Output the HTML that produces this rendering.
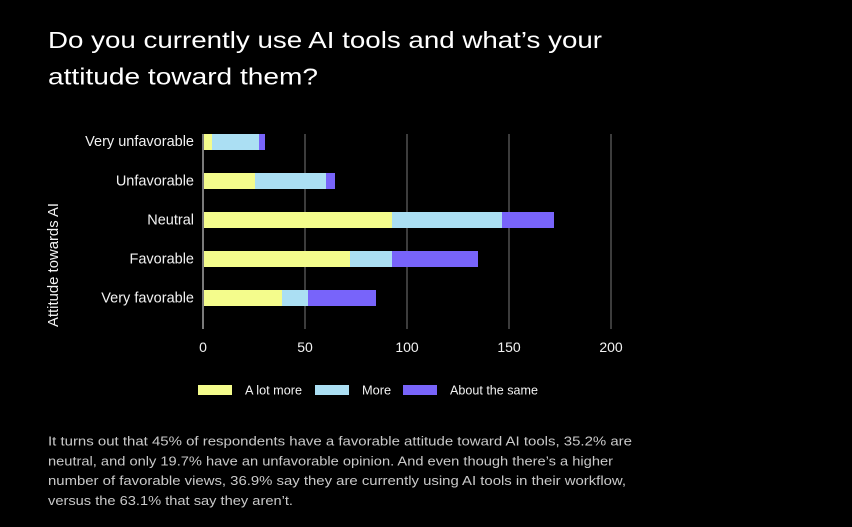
<!DOCTYPE html>
<html>
<head>
<meta charset="utf-8">
<style>
  html, body { margin:0; padding:0; background:#000; }
  body { width:852px; height:527px; overflow:hidden; }
  svg { display:block; }
  text { font-family: "Liberation Sans", Arial, sans-serif; }
</style>
</head>
<body>
<svg width="852" height="527" viewBox="0 0 852 527" xmlns="http://www.w3.org/2000/svg">
  <rect x="0" y="0" width="852" height="527" fill="#000"/>

  <!-- Title -->
  <text x="48" y="48" font-size="23" fill="#ffffff" textLength="554" lengthAdjust="spacingAndGlyphs">Do you currently use AI tools and what’s your</text>
  <text x="48" y="84.5" font-size="23" fill="#ffffff" textLength="270" lengthAdjust="spacingAndGlyphs">attitude toward them?</text>

  <!-- Gridlines -->
  <g stroke-width="2">
    <line x1="305" y1="134" x2="305" y2="329" stroke="#3c3c3c"/>
    <line x1="407" y1="134" x2="407" y2="329" stroke="#3c3c3c"/>
    <line x1="509" y1="134" x2="509" y2="329" stroke="#3c3c3c"/>
    <line x1="611" y1="134" x2="611" y2="329" stroke="#3c3c3c"/>
  </g>

  <!-- Bars -->
  <!-- Very unfavorable -->
  <rect x="203" y="134" width="9" height="16" fill="#f4fc8c"/>
  <rect x="212" y="134" width="47" height="16" fill="#abdff3"/>
  <rect x="259" y="134" width="6" height="16" fill="#7864fa"/>
  <!-- Unfavorable -->
  <rect x="203" y="173" width="52" height="16" fill="#f4fc8c"/>
  <rect x="255" y="173" width="71" height="16" fill="#abdff3"/>
  <rect x="326" y="173" width="9" height="16" fill="#7864fa"/>
  <!-- Neutral -->
  <rect x="203" y="212" width="189" height="16" fill="#f4fc8c"/>
  <rect x="392" y="212" width="110" height="16" fill="#abdff3"/>
  <rect x="502" y="212" width="52" height="16" fill="#7864fa"/>
  <!-- Favorable -->
  <rect x="203" y="251" width="147" height="16" fill="#f4fc8c"/>
  <rect x="350" y="251" width="42" height="16" fill="#abdff3"/>
  <rect x="392" y="251" width="86" height="16" fill="#7864fa"/>
  <!-- Very favorable -->
  <rect x="203" y="290" width="79" height="16" fill="#f4fc8c"/>
  <rect x="282" y="290" width="26" height="16" fill="#abdff3"/>
  <rect x="308" y="290" width="68" height="16" fill="#7864fa"/>

  <!-- Zero axis line -->
  <line x1="203" y1="134" x2="203" y2="329" stroke="#7a7a7a" stroke-width="2"/>

  <!-- Category labels -->
  <g font-size="14.5" fill="#f2f2f2" text-anchor="end">
    <text x="194" y="146">Very unfavorable</text>
    <text x="194" y="185.5">Unfavorable</text>
    <text x="194" y="224.5">Neutral</text>
    <text x="194" y="263.7">Favorable</text>
    <text x="194" y="302.7">Very favorable</text>
  </g>

  <!-- Y axis title -->
  <text transform="translate(58,265) rotate(-90)" x="0" y="0" font-size="14.5" fill="#f2f2f2" text-anchor="middle" textLength="124" lengthAdjust="spacingAndGlyphs">Attitude towards AI</text>

  <!-- Tick labels -->
  <g font-size="14" fill="#f2f2f2" text-anchor="middle">
    <text x="203" y="352">0</text>
    <text x="305" y="352">50</text>
    <text x="407" y="352">100</text>
    <text x="509" y="352">150</text>
    <text x="611" y="352">200</text>
  </g>

  <!-- Legend -->
  <rect x="198" y="385" width="34" height="10" fill="#f4fc8c"/>
  <text x="245" y="394.5" font-size="12.8" fill="#f2f2f2" textLength="57" lengthAdjust="spacingAndGlyphs">A lot more</text>
  <rect x="315" y="385" width="34" height="10" fill="#abdff3"/>
  <text x="362" y="394.5" font-size="12.8" fill="#f2f2f2">More</text>
  <rect x="403" y="385" width="34" height="10" fill="#7864fa"/>
  <text x="450" y="394.5" font-size="12.8" fill="#f2f2f2" textLength="88" lengthAdjust="spacingAndGlyphs">About the same</text>

  <!-- Body text -->
  <g font-size="13" fill="#c9c9c9">
    <text x="48" y="445.7" textLength="584" lengthAdjust="spacingAndGlyphs">It turns out that 45% of respondents have a favorable attitude toward AI tools, 35.2% are</text>
    <text x="48" y="465.4" textLength="565" lengthAdjust="spacingAndGlyphs">neutral, and only 19.7% have an unfavorable opinion. And even though there’s a higher</text>
    <text x="48" y="485.1" textLength="578" lengthAdjust="spacingAndGlyphs">number of favorable views, 36.9% say they are currently using AI tools in their workflow,</text>
    <text x="48" y="504.8" textLength="245" lengthAdjust="spacingAndGlyphs">versus the 63.1% that say they aren’t.</text>
  </g>
</svg>
</body>
</html>
